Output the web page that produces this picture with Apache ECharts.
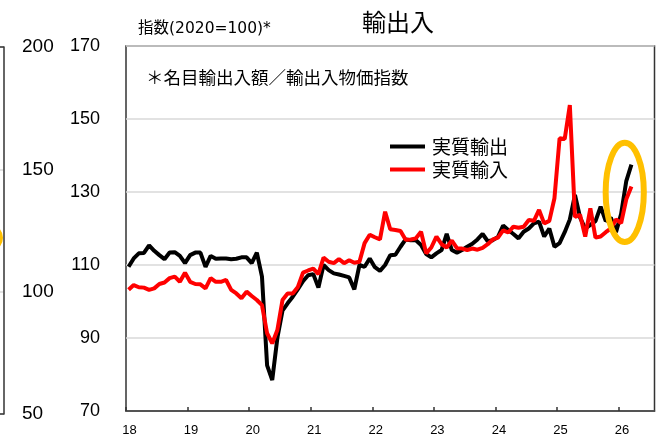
<!DOCTYPE html>
<html><head><meta charset="utf-8">
<script src="https://cdn.jsdelivr.net/npm/echarts@6/dist/echarts.min.js"></script>
<style>html,body{margin:0;padding:0;background:#fff}#c{width:661px;height:440px}</style>
</head><body><div id="c"></div>
<script>
// ---- data (monthly, Jan 2018 - Mar 2026, index 2020=100) ----
const startYear = 2018;
const startMonth = 1;
const realExports = [
 109.5,111.8,113.2,113.3,115.4,113.9,112.7,111.6,113.4,113.5,112.5,110.5,
 112.7,113.4,113.4,109.5,112.5,111.7,111.8,111.8,111.6,111.7,112.1,112.1,
 110.5,113.4,106.8,82.5,78.5,90.0,97.5,99.5,101.3,103.4,105.6,107.2,
 107.5,103.8,110.0,108.6,107.7,107.4,107.0,106.6,103.3,110.0,109.5,111.8,
 109.4,108.4,110.0,112.7,112.8,115.0,117.0,116.8,116.8,115.5,113.0,112.1,
 113.2,114.1,118.5,114.1,113.4,114.1,115.0,115.8,117.0,118.5,116.5,116.8,
 117.7,120.8,119.6,118.5,117.3,119.1,120.0,121.4,121.9,117.8,120.0,115.0,
 116.0,119.0,122.5,129.2,123.0,120.0,121.0,122.0,126.0,122.0,123.0,119.0,
 124.0,133.0,137.5
];
const realImports = [
 103.2,104.5,103.9,103.8,103.2,103.6,104.8,105.2,106.4,106.8,105.4,107.9,
 105.4,104.8,104.7,103.6,106.4,105.4,105.4,105.9,103.2,102.2,100.9,102.7,
 101.5,100.4,99.0,91.3,88.5,92.2,100.4,102.2,102.2,104.0,107.9,108.5,
 109.0,107.5,112.0,110.9,110.5,111.6,110.5,111.3,110.6,110.9,116.0,118.3,
 117.6,117.0,124.6,119.8,119.6,119.3,116.9,117.0,117.3,119.1,113.2,114.8,
 117.8,115.7,114.8,116.7,114.6,114.5,114.1,114.5,114.2,114.7,115.7,117.0,
 117.5,119.5,118.9,120.5,120.2,120.5,122.3,122.1,125.1,121.4,122.1,128.3,
 144.7,144.5,153.8,123.2,123.7,117.8,125.5,117.5,117.8,119.0,120.0,122.5,
 121.5,128.0,131.5
];
const seriesNames = ['実質輸出', '実質輸入'];
const seriesColors = ['#000000', '#ff0000'];
const yMin = 70, yMax = 170, yStep = 20;
const leftYMin = 50, leftYMax = 200, leftYStep = 50;
const xMinYear = 2018, xMaxYear = 2026 + 7/12;
const titleText = '輸出入';
const yName = '指数(2020=100)*';
const noteText = '＊名目輸出入額／輸出入物価指数';
// highlighted regions (data units)
const markCenter = [2026.10, 129.9], markRadius = [0.31, 13.6];
const leftMarkY = 122;

// month positions (mid-month)
const months = realExports.map((_, i) => {
  const m = startMonth - 1 + i;
  return { year: startYear + Math.floor(m / 12), month: (m % 12) + 1 };
});
const xOf = d => d.year + (d.month - 0.5) / 12;
const expData = months.map((d, i) => [xOf(d), realExports[i]]);
const impData = months.map((d, i) => [xOf(d), realImports[i]]);

const chart = echarts.init(document.getElementById('c'), null, {renderer: 'canvas'});
const jp = '"Noto Sans CJK JP", sans-serif';
const frame = { color: '#333', width: 1.5 };
const option = {
  animation: false,
  backgroundColor: '#fff',
  title: [
    { text: titleText, left: 398, top: 10, textAlign: 'center', padding: 0,
      textStyle: { fontFamily: jp, fontSize: 24, fontWeight: 'normal', color: '#000' } },
    { text: yName, left: 138, top: 21, padding: 0,
      textStyle: { fontFamily: '"DejaVu Sans", "Noto Sans CJK JP", sans-serif', fontSize: 15.5, fontWeight: 'normal', color: '#000' } },
    { text: noteText, left: 146, top: 69, padding: 0,
      textStyle: { fontFamily: jp, fontSize: 17.5, fontWeight: 'normal', color: '#000' } }
  ],
  legend: {
    orient: 'vertical', left: 390, top: 137, padding: 0, itemWidth: 35, itemHeight: 4, itemGap: 4,
    icon: 'rect',
    textStyle: { fontFamily: jp, fontSize: 19, color: '#000', lineHeight: 19, padding: [0, 0, 0, 2] },
    data: seriesNames
  },
  grid: [
    { left: 126, right: 6.5, top: 46, bottom: 29, show: true, borderColor: '#333', borderWidth: 1.5, backgroundColor: 'transparent' },
    { left: 0, width: 3.5, top: 47, bottom: 26, show: false }
  ],
  xAxis: [
    { type: 'value', gridIndex: 0, min: xMinYear, max: xMaxYear, interval: 1,
      axisLine: { show: true, lineStyle: frame },
      axisTick: { show: true, inside: true, length: 4, lineStyle: frame },
      splitLine: { show: false },
      axisLabel: { showMaxLabel: false, margin: 13, fontSize: 13, color: '#000', fontFamily: '"Liberation Sans", Arial, sans-serif',
        padding: [0, 0, 0, 7],
        formatter: v => Number.isInteger(v) ? String(v % 100) : '' } },
    { type: 'value', gridIndex: 1, min: 0, max: 1, position: 'bottom',
      axisLine: { show: true, onZero: false, lineStyle: frame }, axisTick: { show: false }, axisLabel: { show: false }, splitLine: { show: false } },
    { type: 'value', gridIndex: 1, min: 0, max: 1, position: 'top',
      axisLine: { show: true, onZero: false, lineStyle: frame }, axisTick: { show: false }, axisLabel: { show: false }, splitLine: { show: false } }
  ],
  yAxis: [
    { type: 'value', gridIndex: 0, min: yMin, max: yMax, interval: yStep,
      axisLine: { show: false }, axisTick: { show: false },
      splitLine: { show: true, lineStyle: { color: '#d9d9d9', width: 1.5 } },
      axisLabel: { margin: 26, fontSize: 18, color: '#000', fontFamily: '"Liberation Sans", Arial, sans-serif' } },
    { type: 'value', gridIndex: 1, position: 'right', min: leftYMin, max: leftYMax, interval: leftYStep,
      axisLine: { show: true, onZero: false, lineStyle: frame }, axisTick: { show: false },
      splitLine: { show: true, lineStyle: { color: '#d9d9d9', width: 1.5 } },
      axisLabel: { margin: 18.5, fontSize: 19, color: '#000', fontFamily: '"Liberation Sans", Arial, sans-serif' } }
  ],
  series: [
    { name: seriesNames[0], type: 'line', xAxisIndex: 0, yAxisIndex: 0, data: expData,
      showSymbol: false, symbol: 'none', lineStyle: { color: seriesColors[0], width: 4 }, itemStyle: { color: seriesColors[0] }, z: 2 },
    { name: seriesNames[1], type: 'line', xAxisIndex: 0, yAxisIndex: 0, data: impData,
      showSymbol: false, symbol: 'none', lineStyle: { color: seriesColors[1], width: 4 }, itemStyle: { color: seriesColors[1] }, z: 3 }
  ]
};
chart.setOption(option);

// annotation ellipses, positioned from data units
const c = chart.convertToPixel({ gridIndex: 0 }, markCenter);
const e = chart.convertToPixel({ gridIndex: 0 }, [markCenter[0] + markRadius[0], markCenter[1] + markRadius[1]]);
const lc = chart.convertToPixel({ xAxisIndex: 1, yAxisIndex: 1 }, [0, leftMarkY]);
const lrx = 17, lry = 13;
chart.setOption({
  graphic: [
    { type: 'ellipse', z: 100, shape: { cx: c[0], cy: c[1], rx: Math.abs(e[0] - c[0]), ry: Math.abs(c[1] - e[1]) },
      style: { fill: 'none', stroke: '#FFC000', lineWidth: 6 } },
    { type: 'ellipse', z: 100, shape: { cx: lc[0] - lrx, cy: lc[1], rx: lrx, ry: lry },
      style: { fill: 'none', stroke: '#FFC000', lineWidth: 6 } }
  ]
});
</script>
</body></html>
